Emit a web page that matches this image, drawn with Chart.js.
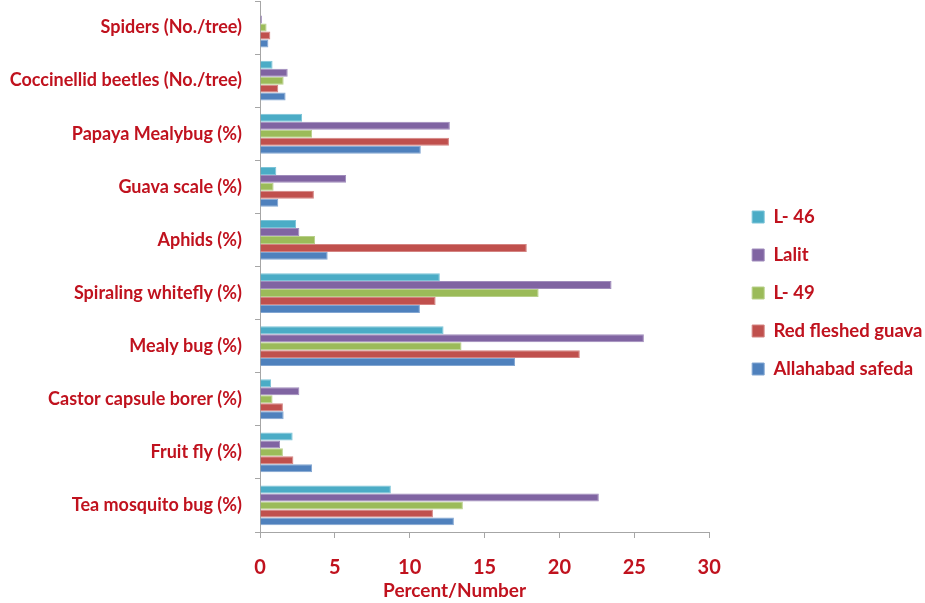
<!DOCTYPE html>
<html>
<head>
<meta charset="utf-8">
<script src="https://cdn.jsdelivr.net/npm/chart.js@4/dist/chart.umd.min.js"></script>
<style>
html, body { margin: 0; padding: 0; background: #fff; }
#wrap { width: 925px; height: 603px; position: relative; }
</style>
</head>
<body>
<div id="wrap"><canvas id="myChart" width="925" height="603"></canvas></div>
<script>
// categories, top to bottom
const pests = [
  "Spiders (No./tree)",
  "Coccinellid beetles (No./tree)",
  "Papaya Mealybug (%)",
  "Guava scale (%)",
  "Aphids (%)",
  "Spiraling whitefly (%)",
  "Mealy bug (%)",
  "Castor capsule borer (%)",
  "Fruit fly (%)",
  "Tea mosquito bug (%)"
];
const xTicks = [0, 5, 10, 15, 20, 25, 30];

// series values
const l46 = [0, 0.84, 2.81, 1.09, 2.41, 12.01, 12.26, 0.74, 2.18, 8.74];
const lalit = [0.13, 1.85, 12.68, 5.75, 2.63, 23.48, 25.64, 2.63, 1.34, 22.63];
const l49 = [0.44, 1.58, 3.48, 0.91, 3.68, 18.61, 13.46, 0.84, 1.53, 13.55];
const redFleshed = [0.69, 1.22, 12.62, 3.6, 17.82, 11.73, 21.36, 1.53, 2.23, 11.55];
const allahabad = [0.56, 1.71, 10.74, 1.22, 4.52, 10.68, 17.03, 1.58, 3.48, 12.95];

const red = "#c0121e";
const font = "Lato, 'Open Sans', sans-serif";

function ds(label, data, color, border) {
  return {
    label: label,
    data: data,
    backgroundColor: color,
    borderColor: border,
    borderWidth: 1,
    barPercentage: 1.0,
    categoryPercentage: 0.75
  };
}

// widen the legend box and move its items away from the plot
const gapPlugin = {
  id: "legendGap",
  beforeLayout: function(chart) {
    var lg = chart.legend;
    if (lg && !lg._gapDone) {
      var fit = lg.fit;
      lg.fit = function() { fit.call(this); this.width += 16; };
      lg._gapDone = true;
    }
  },
  afterLayout: function(chart) {
    var lg = chart.legend;
    if (!lg) return;
    lg.left += 23.5;
    lg.top -= 9;
    lg.bottom -= 9;
  }
};

var ctx = document.getElementById("myChart");
var myChart = new Chart(ctx, {
  type: "bar",
  data: {
    labels: pests,
    datasets: [
      ds("L- 46", l46, "#4bacc6", "#7cc4d8"),
      ds("Lalit", lalit, "#8064a2", "#a08cbc"),
      ds("L- 49", l49, "#9bbb59", "#b8d08a"),
      ds("Red fleshed guava", redFleshed, "#c0504d", "#d48482"),
      ds("Allahabad safeda", allahabad, "#4f81bd", "#82a6d2")
    ]
  },
  plugins: [gapPlugin],
  options: {
    indexAxis: "y",
    responsive: false,
    animation: false,
    layout: { padding: { top: 1, left: 0, right: 0, bottom: 0 } },
    plugins: {
      tooltip: { enabled: false },
      legend: {
        position: "right",
        labels: {
          color: red,
          font: { family: font, size: 18.5, weight: "bold" },
          boxWidth: 12,
          boxHeight: 12,
          padding: 19.5
        }
      }
    },
    scales: {
      x: {
        min: 0,
        max: 30,
        afterBuildTicks: function(axis) {
          axis.ticks = xTicks.map(function(v){ return { value: v }; });
        },
        afterFit: function(scale) { scale.height = 71; },
        grid: { display: true, drawOnChartArea: false, drawTicks: true, tickLength: 6, color: "#a6a6a6" },
        border: { color: "#a6a6a6", width: 1 },
        ticks: {
          color: red,
          padding: 18,
          maxRotation: 0,
          font: { family: font, size: 20, weight: "bold" }
        },
        title: {
          display: true,
          text: "Percent/Number             ",
          color: red,
          padding: { top: 0, bottom: 1 },
          font: { family: font, size: 19, weight: "bold" }
        }
      },
      y: {
        offset: true,
        afterFit: function(scale) {
          scale.width = 260;
          scale.paddingTop = 0;
          scale.paddingBottom = 0;
        },
        grid: { display: true, offset: true, drawOnChartArea: false, drawTicks: true, tickLength: 5, color: "#a6a6a6" },
        border: { color: "#a6a6a6", width: 1 },
        ticks: {
          color: red,
          padding: 13,
          font: { family: font, size: 18, weight: "bold" }
        }
      }
    }
  }
});
</script>
</body>
</html>
